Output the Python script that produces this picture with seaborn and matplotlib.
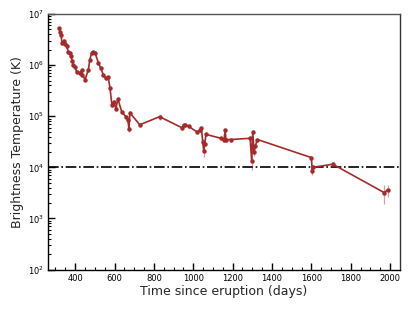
import numpy as np
import pandas as pd
import matplotlib
matplotlib.use("Agg")
import matplotlib.pyplot as plt
import seaborn as sns
from matplotlib.ticker import MultipleLocator, LogLocator, FixedLocator

# time since eruption (days) and brightness temperature (K)
days = [316, 323, 328, 333, 344, 349, 356, 366, 373, 378,
        386, 390, 400, 407, 424, 434, 437, 450, 467, 474,
        484, 492, 501, 518, 530, 543, 555, 568, 577, 587,
        597, 607, 617, 637, 658, 668, 673, 678, 728, 829,
        944, 952, 960, 977, 1020, 1036, 1041, 1048, 1053, 1058,
        1065, 1141, 1157, 1162, 1166, 1191, 1289, 1297, 1302, 1309,
        1315, 1326, 1600, 1605, 1608, 1709, 1970, 1987]
temp_k = [5.3e6, 4.5e6, 3.9e6, 2.7e6, 2.9e6, 2.6e6, 2.4e6, 1.8e6, 1.7e6, 1.5e6,
          1.2e6, 1.0e6, 9.3e5, 7.4e5, 6.9e5, 8.1e5, 6.5e5, 5.2e5, 8.1e5, 1.26e6,
          1.75e6, 1.8e6, 1.75e6, 1.1e6, 8.7e5, 6.5e5, 5.5e5, 5.8e5, 3.5e5, 1.66e5,
          1.9e5, 1.4e5, 2.2e5, 1.2e5, 9.8e4, 8.5e4, 5.6e4, 1.17e5, 6.8e4, 9.8e4,
          5.9e4, 6.8e4, 6.8e4, 6.3e4, 4.9e4, 5.4e4, 5.9e4, 3.2e4, 2.1e4, 2.9e4,
          4.4e4, 3.7e4, 3.5e4, 5.4e4, 3.5e4, 3.5e4, 3.7e4, 1.3e4, 4.9e4, 2.0e4,
          2.6e4, 3.5e4, 1.55e4, 8.3e3, 1.0e4, 1.15e4, 3.2e3, 3.6e3]
temp_err = [3e5, 3e5, 2e5, 2e5, 2e5, 2e5, 1.5e5, 1e5, 1e5, 1e5,
            8e4, 7e4, 6e4, 5e4, 5e4, 5e4, 4e4, 4e4, 5e4, 8e4,
            1e5, 1e5, 1e5, 7e4, 5e4, 4e4, 3e4, 3e4, 2e4, 1.5e4,
            1.5e4, 1e4, 1.5e4, 8e3, 6e3, 6e3, 6e3, 8e3, 5e3, 1.5e4,
            4e3, 4e3, 4e3, 4e3, 4e3, 4e3, 4e3, 4e3, 5e3, 3e3,
            3e3, 3e3, 3e3, 5e3, 3e3, 3e3, 4e3, 4e3, 4e3, 3e3,
            3e3, 3e3, 1.5e3, 1.2e3, 1e3, 1e3, 1.3e3, 1e3]
threshold = 1e4

df = pd.DataFrame({"days": days, "tb": temp_k, "err": temp_err})

sns.set_style("white")
plt.rcParams["font.family"] = ["DejaVu Sans"]

fig = plt.figure(figsize=(4.15, 3.11), dpi=100)
ax = fig.add_axes([0.1157, 0.1334, 0.847, 0.8215])

col = "#a52a2a"
ax.errorbar(df["days"], df["tb"], yerr=df["err"], fmt="none",
            ecolor=col, alpha=0.45, elinewidth=0.9, zorder=2)
sns.lineplot(data=df, x="days", y="tb", ax=ax, color=col, marker="o",
             markersize=3.2, markeredgewidth=0, linewidth=1.2, sort=False,
             zorder=3)
ax.axhline(threshold, color="black", ls="-.", lw=1.2, zorder=1)

ax.set_yscale("log")
ax.set_ylim(1e2, 1e7)
ax.set_xlim(262, 2048)
ax.yaxis.set_major_locator(FixedLocator([1e2, 1e3, 1e4, 1e5, 1e6, 1e7]))
ax.yaxis.set_minor_locator(LogLocator(base=10, subs=np.arange(2, 10)))
ax.xaxis.set_major_locator(MultipleLocator(200))
ax.xaxis.set_minor_locator(MultipleLocator(50))

ax.tick_params(which="both", direction="in", top=False, right=False,
               left=True, bottom=True, labelsize=6, colors="black", pad=3)
ax.tick_params(which="major", length=5, width=1)
ax.tick_params(which="minor", length=2.5, width=0.8)

for s in ax.spines.values():
    s.set_color("black")
    s.set_linewidth(1)
ax.spines["top"].set_color("#555555")
ax.spines["right"].set_color("#333333")

ax.set_xlabel("Time since eruption (days)", fontsize=9, labelpad=2)
ax.set_ylabel("Brightness Temperature (K)", fontsize=9, labelpad=3)

fig.savefig("out.png", dpi=100)
